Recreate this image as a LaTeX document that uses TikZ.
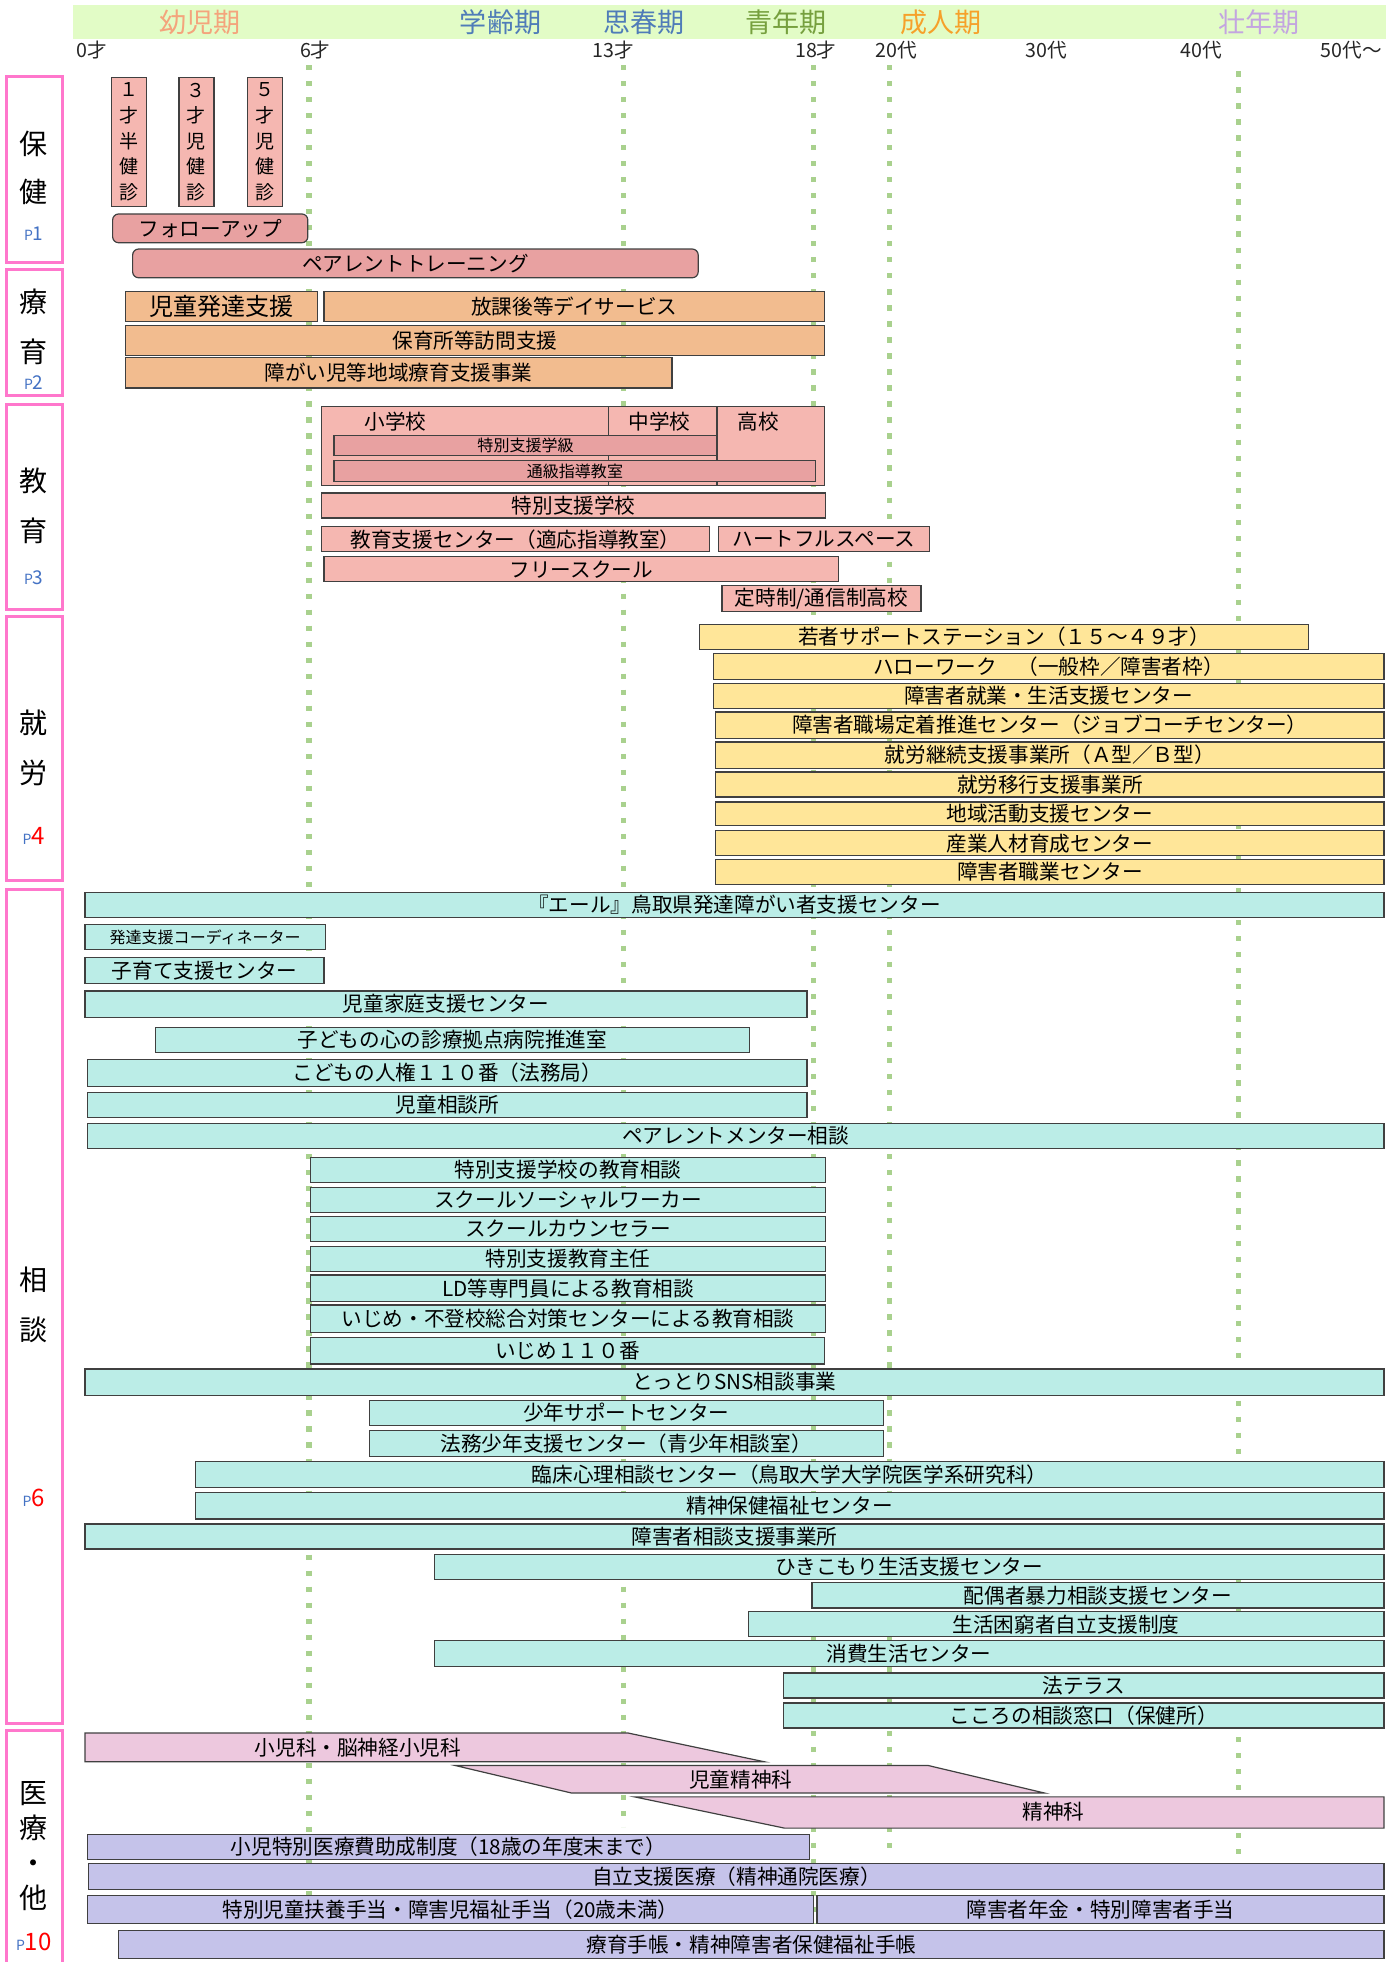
\documentclass[tikz,border=0pt]{standalone}
\usepackage{fontspec}
\setmainfont{Noto Sans CJK JP}
\usetikzlibrary{fit}
\definecolor{bandgreen}{HTML}{E2FCC6}
\definecolor{yojiorange}{HTML}{F4A47C}
\definecolor{gakublue}{HTML}{4F7CB8}
\definecolor{seinengreen}{HTML}{76A03E}
\definecolor{seijinorange}{HTML}{F6A12A}
\definecolor{sonenpurple}{HTML}{C3A5E0}
\definecolor{agegreen}{HTML}{A9D18E}
\definecolor{catpink}{HTML}{FF77CC}
\definecolor{boxline}{HTML}{404040}
\definecolor{kenpink}{HTML}{F5B7B1}
\definecolor{kendark}{HTML}{E8A1A1}
\definecolor{ryoorange}{HTML}{F2BC8F}
\definecolor{shuyellow}{HTML}{FFE699}
\definecolor{soteal}{HTML}{BBEDE7}
\definecolor{medpink}{HTML}{EDC8DE}
\definecolor{medlav}{HTML}{C5C3EA}
\definecolor{pblue}{HTML}{4472C4}
\tikzset{
  box/.style={draw=boxline, line width=0.6pt, inner sep=0pt},
  boxtext/.style={inner sep=0pt, font=\fontsize{10.3}{12}\selectfont},
  txt/.style={label={[boxtext]center:#1}},
  smalltxt/.style={label={[boxtext, font=\fontsize{8}{9}\selectfont]center:#1}},
  bigtxt/.style={label={[boxtext, font=\fontsize{12}{13}\selectfont]center:#1}},
  vtxt/.style={label={[boxtext, align=center, font=\fontsize{9.5}{12.8}\selectfont]center:#1}},
  medshape/.style={draw=boxline, line width=0.6pt, fill=medpink},
  period/.style={inner sep=0pt, font=\fontsize{13.5}{14}\selectfont},
  age/.style={inner sep=0pt, text=black!85, font=\fontsize{9.8}{10}\selectfont},
  ageline/.style={agegreen, line width=2.6pt, dash pattern=on 2.6pt off 5.4pt},
  catbox/.style={draw=catpink, line width=1.5pt, fill=white, inner sep=0pt},
  cattext/.style={align=center, inner sep=0pt, font=\fontsize{14}{25}\selectfont},
  pagenum/.style={inner sep=0pt, text=pblue, font=\fontsize{9.5}{10}\selectfont},
}
\newcommand{\psmall}{{\color{pblue}\fontsize{7}{7}\selectfont P}}

\begin{document}
\begin{tikzpicture}[x=0.625pt, y=-0.625pt]
\useasboundingbox (0,0) rectangle (1114,1568);

% header band and ages
\node[fit={(58,4) (1108,31)}, inner sep=0pt, fill=bandgreen] (band) {};
\node[period, text=yojiorange] (yoji) at (160,18) {幼児期};
\node[period, text=gakublue] (gakurei) at (400,18) {学齢期};
\node[period, text=gakublue] (shishun) at (515,18) {思春期};
\node[period, text=seinengreen] (seinen) at (628,18) {青年期};
\node[period, text=seijinorange] (seijin) at (752,18) {成人期};
\node[period, text=sonenpurple] (sonen) at (1006,18) {壮年期};
\node[age, anchor=west] (age0) at (61,40) {0才};
\node[age] (age6) at (252,40) {6才};
\node[age] (age13) at (490,40) {13才};
\node[age] (age18) at (652,40) {18才};
\node[age] (age20) at (716,40) {20代};
\node[age] (age30) at (836,40) {30代};
\node[age] (age40) at (960,40) {40代};
\node[age] (age50) at (1080,40) {50代～};

\draw[ageline] (247,52) -- (247,1538);
\draw[ageline] (498,52) -- (498,1460);
\draw[ageline] (650,52) -- (650,1538);
\draw[ageline] (711,52) -- (711,1484);
\draw[ageline] (990,57) -- (990,1541);

% categories
\node[catbox, fit={(5,61) (50,210)}] (hoken) {};
\node[cattext, font=\fontsize{14}{23.75}\selectfont] (hokenlbl) at (27,134) {保\\健};
\node[pagenum] (hokenp) at (27,187) {\psmall1};
\node[catbox, fit={(5,215) (50,316)}] (ryoiku) {};
\node[cattext] (ryoikulbl) at (27,261) {療\\育};
\node[pagenum] (ryoikup) at (27,306) {\psmall2};
\node[catbox, fit={(5,323) (50,487)}] (kyoiku) {};
\node[cattext] (kyoikulbl) at (27,404) {教\\育};
\node[pagenum] (kyoikup) at (27,462) {\psmall3};
\node[catbox, fit={(5,493) (50,704)}] (shuro) {};
\node[cattext] (shurolbl) at (27,598) {就\\労};
\node[pagenum] (shurop) at (27,668) {\psmall{\color{red}\fontsize{12}{12}\selectfont 4}};
\node[catbox, fit={(5,711) (50,1377)}] (sodan) {};
\node[cattext] (sodanlbl) at (27,1043) {相\\談};
\node[pagenum] (sodanp) at (27,1197) {\psmall{\color{red}\fontsize{12}{12}\selectfont 6}};
\node[catbox, fit={(5,1383) (50,1576)}] (iryo) {};
\node[cattext, font=\fontsize{14}{17.5}\selectfont] (iryolbl) at (27,1475) {医\\療\\・\\他};
\node[pagenum] (iryop) at (27,1552) {\psmall{\color{red}\fontsize{12}{12}\selectfont 10}};

% hoken
\node[box, fill=kenpink, fit={(89,62) (117,165)}, vtxt={１\\才\\半\\健\\診}] (kenshinA) {};
\node[box, fill=kenpink, fit={(143,62) (171,165)}, vtxt={３\\才\\児\\健\\診}] (kenshinB) {};
\node[box, fill=kenpink, fit={(198,62) (226,165)}, vtxt={５\\才\\児\\健\\診}] (kenshinC) {};
\node[box, fill=kendark, rounded corners=3pt, fit={(90,171) (246,194)}, txt={フォローアップ}] (followup) {};
\node[box, fill=kendark, rounded corners=3pt, fit={(106,199) (558,222)}, txt={ペアレントトレーニング}] (parenttr) {};

% ryoiku
\node[box, fill=ryoorange, fit={(100,233) (254,257)}, bigtxt={児童発達支援}] (jihatsu) {};
\node[box, fill=ryoorange, fit={(259,233) (659,257)}, txt={放課後等デイサービス}] (hokago) {};
\node[box, fill=ryoorange, fit={(100,260) (659,284)}, txt={保育所等訪問支援}] (hoikusho) {};
\node[box, fill=ryoorange, fit={(100,286) (537,310)}, txt={障がい児等地域療育支援事業}] (chiiki) {};

% kyoiku
\node[box, fill=kenpink, fit={(257,325) (486,388)}] (elem) {};
\node[box, fill=kenpink, fit={(486,325) (573,388)}] (junior) {};
\node[box, fill=kenpink, fit={(573,325) (659,388)}] (high) {};
\node[boxtext] (elemlbl) at (316,337) {小学校};
\node[boxtext] (juniorlbl) at (527,337) {中学校};
\node[boxtext] (highlbl) at (606,337) {高校};
\node[box, fill=kendark, fit={(267,348) (573,364)}, smalltxt={特別支援学級}] (tokukyu) {};
\node[box, fill=kendark, fit={(267,368) (652,385)}, smalltxt={通級指導教室}] (tsukyu) {};
\node[box, fill=kenpink, fit={(257,394) (660,414)}, txt={特別支援学校}] (tokushi) {};
\node[box, fill=kenpink, fit={(257,421) (567,441)}, txt={教育支援センター（適応指導教室）}] (kyoshien) {};
\node[box, fill=kenpink, fit={(574,421) (743,441)}, txt={ハートフルスペース}] (heartful) {};
\node[box, fill=kenpink, fit={(259,445) (670,465)}, txt={フリースクール}] (freeschool) {};
\node[box, fill=kenpink, fit={(577,468) (736,489)}, txt={定時制/通信制高校}] (teijisei) {};

% shuro
\node[box, fill=shuyellow, fit={(559,499) (1046,519)}, txt={若者サポートステーション（１５～４９才）}] (wakamono) {};
\node[box, fill=shuyellow, fit={(570,522) (1106,543)}, txt={ハローワーク　（一般枠／障害者枠）}] (hellowork) {};
\node[box, fill=shuyellow, fit={(570,546) (1106,566)}, txt={障害者就業・生活支援センター}] (shugyo) {};
\node[box, fill=shuyellow, fit={(572,569) (1106,590)}, txt={障害者職場定着推進センター（ジョブコーチセンター）}] (teichaku) {};
\node[box, fill=shuyellow, fit={(572,593) (1106,614)}, txt={就労継続支援事業所（Ａ型／Ｂ型）}] (keizoku) {};
\node[box, fill=shuyellow, fit={(572,617) (1106,637)}, txt={就労移行支援事業所}] (ikou) {};
\node[box, fill=shuyellow, fit={(572,641) (1106,660)}, txt={地域活動支援センター}] (chiikikatsudo) {};
\node[box, fill=shuyellow, fit={(572,664) (1106,684)}, txt={産業人材育成センター}] (sangyo) {};
\node[box, fill=shuyellow, fit={(572,687) (1106,707)}, txt={障害者職業センター}] (shokugyo) {};

% sodan
\node[box, fill=soteal, fit={(68,713) (1106,733)}, txt={『エール』鳥取県発達障がい者支援センター}] (yell) {};
\node[box, fill=soteal, fit={(68,739) (260,759)}, smalltxt={発達支援コーディネーター}] (coord) {};
\node[box, fill=soteal, fit={(68,765) (259,786)}, txt={子育て支援センター}] (kosodate) {};
\node[box, fill=soteal, fit={(68,792) (645,813)}, txt={児童家庭支援センター}] (jidokatei) {};
\node[box, fill=soteal, fit={(124,821) (599,841)}, txt={子どもの心の診療拠点病院推進室}] (kokoro) {};
\node[box, fill=soteal, fit={(70,847) (645,868)}, txt={こどもの人権１１０番（法務局）}] (jinken) {};
\node[box, fill=soteal, fit={(70,873) (645,893)}, txt={児童相談所}] (jiso) {};
\node[box, fill=soteal, fit={(70,898) (1106,918)}, txt={ペアレントメンター相談}] (mentor) {};
\node[box, fill=soteal, fit={(248,925) (660,945)}, txt={特別支援学校の教育相談}] (tokushisodan) {};
\node[box, fill=soteal, fit={(248,949) (660,969)}, txt={スクールソーシャルワーカー}] (ssw) {};
\node[box, fill=soteal, fit={(248,972) (660,992)}, txt={スクールカウンセラー}] (sc) {};
\node[box, fill=soteal, fit={(248,996) (660,1016)}, txt={特別支援教育主任}] (shunin) {};
\node[box, fill=soteal, fit={(248,1019) (660,1040)}, txt={LD等専門員による教育相談}] (ldsodan) {};
\node[box, fill=soteal, fit={(248,1043) (660,1065)}, txt={いじめ・不登校総合対策センターによる教育相談}] (futoko) {};
\node[box, fill=soteal, fit={(248,1069) (659,1090)}, txt={いじめ１１０番}] (ijime) {};
\node[box, fill=soteal, fit={(68,1094) (1106,1115)}, txt={とっとりSNS相談事業}] (sns) {};
\node[box, fill=soteal, fit={(295,1119) (706,1139)}, txt={少年サポートセンター}] (shonen) {};
\node[box, fill=soteal, fit={(295,1143) (706,1164)}, txt={法務少年支援センター（青少年相談室）}] (homu) {};
\node[box, fill=soteal, fit={(156,1168) (1106,1189)}, txt={臨床心理相談センター（鳥取大学大学院医学系研究科）}] (rinsho) {};
\node[box, fill=soteal, fit={(156,1193) (1106,1214)}, txt={精神保健福祉センター}] (seiho) {};
\node[box, fill=soteal, fit={(68,1218) (1106,1238)}, txt={障害者相談支援事業所}] (shogaisodan) {};
\node[box, fill=soteal, fit={(347,1242) (1106,1262)}, txt={ひきこもり生活支援センター}] (hikikomori) {};
\node[box, fill=soteal, fit={(649,1265) (1106,1285)}, txt={配偶者暴力相談支援センター}] (haigusha) {};
\node[box, fill=soteal, fit={(598,1288) (1106,1308)}, txt={生活困窮者自立支援制度}] (konkyu) {};
\node[box, fill=soteal, fit={(347,1311) (1106,1332)}, txt={消費生活センター}] (shohi) {};
\node[box, fill=soteal, fit={(626,1337) (1106,1357)}, txt={法テラス}] (hoterasu) {};
\node[box, fill=soteal, fit={(626,1361) (1106,1381)}, txt={こころの相談窓口（保健所）}] (kokoromado) {};

% iryo
\draw[medshape] (68,1385) -- (502,1385) -- (611,1408) -- (68,1408) -- cycle;
\node[boxtext] (shonika) at (286,1397) {小児科・脳神経小児科};
\draw[medshape] (364,1411) -- (742,1411) -- (835,1433) -- (457,1433) -- cycle;
\node[boxtext] (jidoseishin) at (592,1422) {児童精神科};
\draw[medshape] (507,1436) -- (1106,1436) -- (1106,1461) -- (627,1461) -- cycle;
\node[boxtext] (seishin) at (842,1448) {精神科};
\node[box, fill=medlav, fit={(70,1466) (647,1486)}, txt={小児特別医療費助成制度（18歳の年度末まで）}] (shoniiryo) {};
\node[box, fill=medlav, fit={(71,1489) (1106,1510)}, txt={自立支援医療（精神通院医療）}] (jiritsu) {};
\node[box, fill=medlav, fit={(70,1515) (650,1537)}, txt={特別児童扶養手当・障害児福祉手当（20歳未満）}] (fuyo) {};
\node[box, fill=medlav, fit={(653,1515) (1106,1537)}, txt={障害者年金・特別障害者手当}] (nenkin) {};
\node[box, fill=medlav, fit={(95,1543) (1106,1565)}, txt={療育手帳・精神障害者保健福祉手帳}] (techo) {};
\end{tikzpicture}
\end{document}
